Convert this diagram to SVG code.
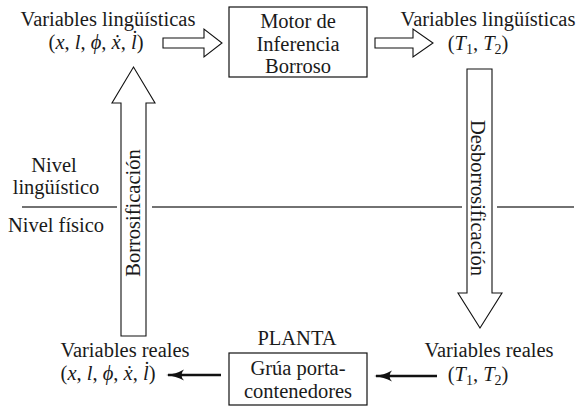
<svg xmlns="http://www.w3.org/2000/svg" width="578" height="407" viewBox="0 0 578 407" font-family="'Liberation Serif', 'DejaVu Serif', serif">
<defs>
<style>
text{font-family:'Liberation Serif','DejaVu Serif',serif;font-size:20.5px;fill:#1a1a1a;text-anchor:middle}
.m{font-style:italic}
.sub{font-size:14px}
.box{fill:#fff;stroke:#111;stroke-width:1.2}
.hollow{fill:#fff;stroke:#111;stroke-width:1.1;stroke-linejoin:miter}
.level{stroke:#444;stroke-width:1.4;fill:none}
.solid{stroke:#111;stroke-width:2.4;fill:none}
</style>
<marker id="ah" viewBox="0 0 18 12" refX="16" refY="6" markerWidth="18" markerHeight="12" markerUnits="userSpaceOnUse" orient="auto">
<path d="M0,0.5 Q8,5 18,6 Q8,7 0,11.5 Q5,6 0,0.5 Z" fill="#111"/>
</marker>
</defs>
<g id="connectors">
<path class="level" d="M22,207 H117 M152,207 H462 M497,207 H574"/>
<path id="arrow-in" class="hollow" d="M163,38 H204 V29 L222,43 L204,57 V48 H163 Z"/>
<path id="arrow-out" class="hollow" d="M375,38 H413 V29 L433,43 L413,57 V48 H375 Z"/>
<path id="arrow-up" class="hollow" d="M121,336 V103 H112 L133.5,67 L155,103 H146 V336 Z"/>
<path id="arrow-down" class="hollow" d="M467,69 V293 H458 L480,328 L502,293 H492 V69 Z"/>
<line class="solid" x1="221" y1="375" x2="168" y2="375" marker-end="url(#ah)"/>
<line class="solid" x1="437" y1="376" x2="376" y2="376" marker-end="url(#ah)"/>
<text transform="translate(140,213) rotate(-90)">Borrosificación</text>
<text transform="translate(471,198) rotate(90)">Desborrosificación</text>
</g>
<g id="in-vars">
<text x="108" y="26">Variables lingüísticas</text>
<text x="96" y="49">(<tspan class="m">x</tspan>, <tspan class="m">l</tspan>, <tspan class="m">ϕ</tspan>, <tspan class="m">ẋ</tspan>, <tspan class="m">l̇</tspan>)</text>
</g>
<g id="motor">
<rect class="box" x="229" y="7" width="138" height="70"/>
<text x="298" y="28">Motor de</text>
<text x="298" y="51">Inferencia</text>
<text x="298" y="73">Borroso</text>
</g>
<g id="out-vars">
<text x="488" y="26">Variables lingüísticas</text>
<text x="478" y="50">(<tspan class="m">T</tspan><tspan class="sub" dy="4">1</tspan><tspan dy="-4">, </tspan><tspan class="m">T</tspan><tspan class="sub" dy="4">2</tspan><tspan dy="-4">)</tspan></text>
</g>
<g id="levels">
<text x="54" y="172">Nivel</text>
<text x="56" y="194">lingüístico</text>
<text x="56" y="232">Nivel físico</text>
</g>
<g id="real-out">
<text x="489" y="357">Variables reales</text>
<text x="478" y="381">(<tspan class="m">T</tspan><tspan class="sub" dy="4">1</tspan><tspan dy="-4">, </tspan><tspan class="m">T</tspan><tspan class="sub" dy="4">2</tspan><tspan dy="-4">)</tspan></text>
</g>
<g id="planta">
<text x="297" y="345">PLANTA</text>
<rect class="box" x="229" y="353" width="138" height="52"/>
<text x="298" y="375">Grúa porta-</text>
<text x="298" y="398">contenedores</text>
</g>
<g id="real-in">
<text x="125" y="357">Variables reales</text>
<text x="108" y="380">(<tspan class="m">x</tspan>, <tspan class="m">l</tspan>, <tspan class="m">ϕ</tspan>, <tspan class="m">ẋ</tspan>, <tspan class="m">l̇</tspan>)</text>
</g>
</svg>
